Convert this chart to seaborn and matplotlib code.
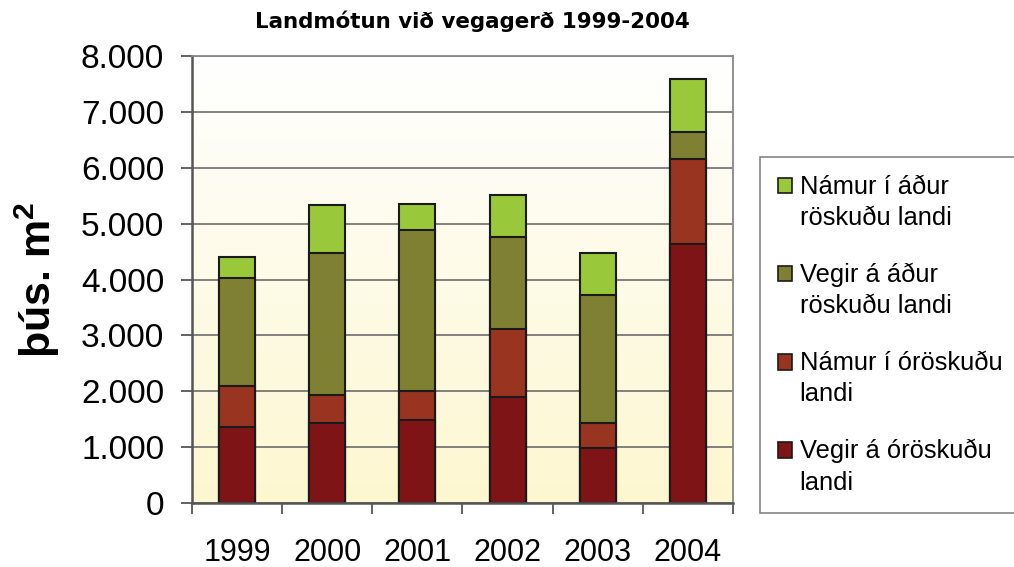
import numpy as np
import matplotlib
matplotlib.use('Agg')
import matplotlib.pyplot as plt
import seaborn as sns
from matplotlib.patches import Patch, Rectangle
from matplotlib.legend_handler import HandlerPatch
from matplotlib.colors import LinearSegmentedColormap

# ---- data ----
years = ['1999', '2000', '2001', '2002', '2003', '2004']
vegir_orosk = [1360, 1440, 1480, 1890, 990, 4640]
namur_orosk = [740, 485, 520, 1230, 450, 1510]
vegir_adur = [1930, 2555, 2880, 1640, 2285, 490]
namur_adur = [370, 850, 480, 750, 755, 940]
series = [vegir_orosk, namur_orosk, vegir_adur, namur_adur]
series_labels = ['Vegir á óröskuðu\nlandi', 'Námur í óröskuðu\nlandi',
                 'Vegir á áður\nröskuðu landi', 'Námur í áður\nröskuðu landi']
colors = ['#7F1417', '#993421', '#808033', '#9AC83B']
title = 'Landmótun við vegagerð 1999-2004'
ylabel = 'þús. m$^{\\mathbf{2}}$'
yticks = [0, 1000, 2000, 3000, 4000, 5000, 6000, 7000, 8000]
ytick_labels = ['0', '1.000', '2.000', '3.000', '4.000', '5.000', '6.000', '7.000', '8.000']

plt.rcParams['font.family'] = ['Liberation Sans', 'DejaVu Sans']
plt.rcParams['mathtext.fontset'] = 'custom'
plt.rcParams['mathtext.rm'] = 'Liberation Sans'
plt.rcParams['mathtext.bf'] = 'Liberation Sans:bold'

fig = plt.figure(figsize=(10.14, 5.67), dpi=100)
ax = fig.add_axes([192/1014, 1-503/567, (733-192)/1014, (503-56)/567])

# background gradient
cmap = LinearSegmentedColormap.from_list('bg', ['#FFFFFF', '#FDF7D0'])
grad = np.linspace(0, 1, 256).reshape(-1, 1)
ax.imshow(grad, cmap=cmap, aspect='auto', extent=(0, 1, 0, 1),
          transform=ax.transAxes, zorder=0, interpolation='bilinear')

# stacked bars via cumulative overlays
cum = np.cumsum(np.array(series), axis=0)
for i in range(len(series) - 1, -1, -1):
    sns.barplot(x=years, y=cum[i], color=colors[i], saturation=1, width=0.4,
                edgecolor='#1a1a1a', linewidth=1.5, ax=ax, zorder=2)

ax.set_xlim(-0.5, 5.5)
ax.set_ylim(0, 8000)
ax.set_yticks(yticks)
ax.set_yticklabels(ytick_labels)
ax.yaxis.grid(True, color='#777777', linewidth=1.3, zorder=1)
ax.set_axisbelow(True)

ax.tick_params(axis='y', labelsize=24, length=8, width=1.3, color='#555555', pad=12)
ax.set_xticks(range(len(years)))
ax.set_xticklabels(years)
ax.tick_params(axis='x', which='major', labelsize=22, length=0, pad=25)
ax.set_xticks(np.arange(-0.5, 6, 1), minor=True)
ax.tick_params(axis='x', which='minor', length=8, width=1.3, color='#555555')

for s in ['left', 'bottom']:
    ax.spines[s].set_color('#555555')
    ax.spines[s].set_linewidth(1.8)
for s in ['top', 'right']:
    ax.spines[s].set_color('#888888')
    ax.spines[s].set_linewidth(1.3)

ax.set_xlabel('')
ax.set_ylabel(ylabel, fontsize=31, fontweight='bold', labelpad=14)

fig.text(0.466, 0.962, title, ha='center', va='center', fontsize=15.4,
         fontweight='bold', family='DejaVu Sans')


class UpperHandler(HandlerPatch):
    def __init__(self, shift, **kw):
        super().__init__(**kw)
        self.shift = shift

    def create_artists(self, legend, orig_handle, xdescent, ydescent, width,
                       height, fontsize, trans):
        p = Rectangle(xy=(-xdescent, -ydescent + self.shift), width=width, height=height)
        self.update_prop(p, orig_handle, legend)
        p.set_transform(trans)
        return [p]


handles = [Patch(facecolor=colors[i], edgecolor='#1a1a1a', linewidth=1.2)
           for i in range(len(series) - 1, -1, -1)]
labels = [series_labels[i] for i in range(len(series) - 1, -1, -1)]
fs = 18.4
leg = fig.legend(handles, labels, loc='upper left',
                 bbox_to_anchor=(760/1014, 1-157/567), fontsize=fs,
                 handlelength=0.55, handleheight=0.55, handletextpad=0.3,
                 labelspacing=1.28, borderpad=0.7, frameon=True, fancybox=False,
                 edgecolor='#666666', borderaxespad=0,
                 handler_map={Patch: UpperHandler(shift=0.68*fs)})
leg.get_frame().set_linewidth(1.2)
for t in leg.get_texts():
    t.set_linespacing(1.38)

fig.savefig('out.png', dpi=100)
